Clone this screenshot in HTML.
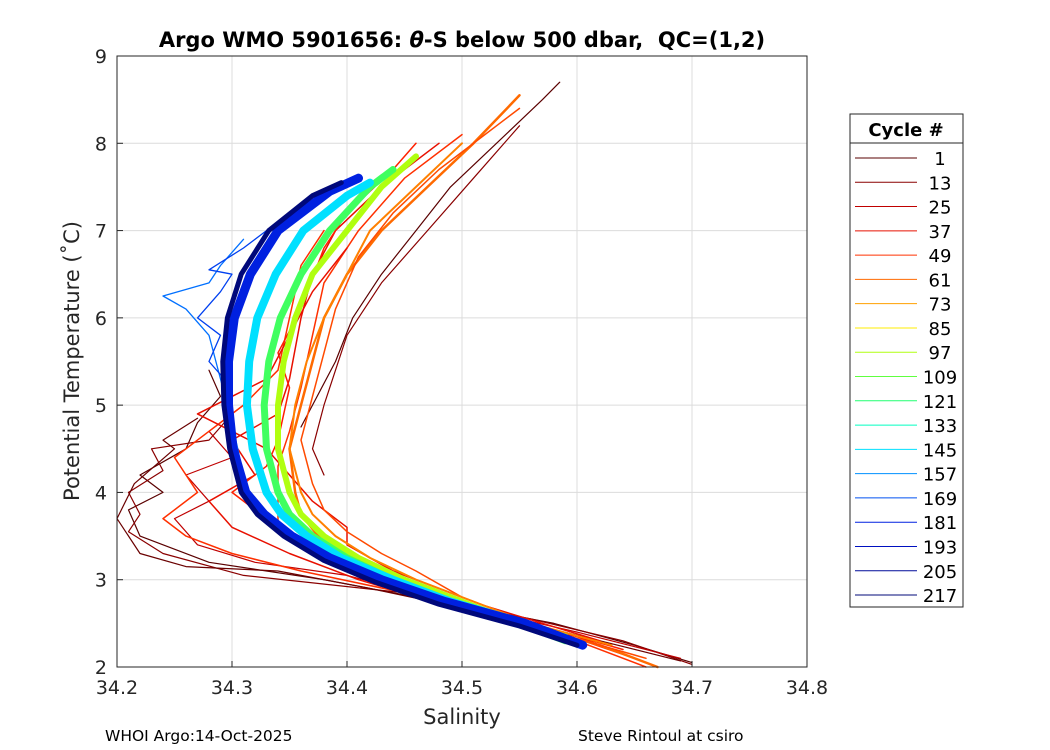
<!DOCTYPE html>
<html><head><meta charset="utf-8"><style>
body{margin:0;background:#fff;}
svg{display:block;font-family:"DejaVu Sans","Liberation Sans",sans-serif;}
</style></head><body>
<svg id="chart" width="1050" height="750" viewBox="0 0 1050 750">
<rect x="0" y="0" width="1050" height="750" fill="#fff"/>
<rect x="117" y="56" width="690" height="611" fill="#fff"/>
<g id="grid"></g>
<g id="marks"></g>
<rect x="117" y="56" width="690" height="611" fill="none" stroke="#262626" stroke-width="1"/>
<g id="ticks"></g>
<text x="462" y="47" text-anchor="middle" font-size="21" font-weight="bold" fill="#000" xml:space="preserve" style="white-space:pre">Argo WMO 5901656: <tspan font-style="italic">θ</tspan>-S below 500 dbar,  QC=(1,2)</text>
<text x="462" y="724" text-anchor="middle" font-size="21" fill="#262626">Salinity</text>
<text transform="translate(79,361) rotate(-90)" text-anchor="middle" font-size="21" fill="#262626">Potential Temperature (˚C)</text>
<text x="105" y="741" font-size="15.5" fill="#000">WHOI Argo:14-Oct-2025</text>
<text x="578" y="741" font-size="15.5" fill="#000">Steve Rintoul at csiro</text>
<g id="legend">
<rect x="850" y="114" width="113" height="493" fill="#fff" stroke="#262626" stroke-width="1"/>
<text x="906" y="136" text-anchor="middle" font-size="18" font-weight="bold">Cycle #</text>
<line x1="850" y1="143" x2="963" y2="143" stroke="#262626"/>
</g>
</svg>
<script>
const xTicks=[34.2,34.3,34.4,34.5,34.6,34.7,34.8];
const xTickLabels=["34.2","34.3","34.4","34.5","34.6","34.7","34.8"];
const yTicks=[2,3,4,5,6,7,8,9];
const yTickLabels=["2","3","4","5","6","7","8","9"];
const legendCycles=[1,13,25,37,49,61,73,85,97,109,121,133,145,157,169,181,193,205,217];
const legendColors=["#5a0000","#8a0000","#c00000","#e81000","#ff3000","#ff6a00","#ffa000","#ffee00","#b0ff10","#60ff40","#20ff70","#00ffc0","#00e0ff","#0090ff","#0050f0","#0020e0","#0010c0","#000c9a","#00087a"];
// profiles: [salinity, temperature] pairs
const profDarkRed1=[[34.70,2.05],[34.65,2.25],[34.58,2.5],[34.48,2.75],[34.38,3.0],[34.28,3.2],[34.22,3.5],[34.21,3.8],[34.24,4.0],[34.22,4.2],[34.26,4.5],[34.27,4.8],[34.29,5.1],[34.28,5.4]];
const profDarkRed13=[[34.70,2.03],[34.64,2.3],[34.56,2.55],[34.45,2.85],[34.31,3.05],[34.24,3.3],[34.21,3.55],[34.22,3.75],[34.21,4.0],[34.24,4.25],[34.23,4.5],[34.28,4.6],[34.30,4.9]];
const profDarkRed25=[[34.69,2.1],[34.60,2.4],[34.50,2.7],[34.40,3.05],[34.32,3.2],[34.27,3.4],[34.25,3.7],[34.28,3.9],[34.26,4.2],[34.30,4.4],[34.28,4.7],[34.31,5.0]];
const profDarkRed2=[[34.69,2.07],[34.62,2.3],[34.52,2.62],[34.42,2.9],[34.34,3.1],[34.26,3.15],[34.22,3.3],[34.20,3.7],[34.215,4.1],[34.25,4.5],[34.24,4.6],[34.27,4.85]];
const profDarkRight=[[34.36,4.75],[34.39,5.5],[34.405,6.0],[34.43,6.5],[34.46,7.0],[34.49,7.5],[34.53,8.0],[34.57,8.5],[34.585,8.7]];
const profDarkRight2=[[34.38,4.2],[34.37,4.5],[34.38,5.0],[34.40,5.8],[34.43,6.4],[34.47,7.0],[34.51,7.6],[34.55,8.2]];
const profRed37=[[34.67,2.0],[34.60,2.35],[34.50,2.65],[34.41,3.0],[34.35,3.3],[34.30,3.6],[34.28,3.9],[34.32,4.2],[34.30,4.6],[34.34,4.9],[34.35,5.3],[34.36,6.0],[34.37,6.5],[34.39,7.0],[34.43,7.5],[34.48,8.0]];
const profRed38=[[34.65,2.1],[34.55,2.55],[34.45,2.85],[34.36,3.1],[34.30,3.3],[34.26,3.5],[34.24,3.7],[34.27,4.0],[34.25,4.4],[34.28,4.7],[34.31,5.0],[34.34,5.4],[34.35,6.0],[34.36,6.6],[34.38,7.0]];
const profRed39=[[34.64,2.2],[34.56,2.5],[34.46,2.9],[34.40,3.1],[34.36,3.4],[34.33,3.7],[34.30,4.0],[34.33,4.3],[34.34,4.6],[34.35,5.2],[34.34,5.6],[34.36,6.1],[34.38,6.8],[34.40,7.2],[34.44,7.7],[34.46,8.0]];
const profRed49=[[34.66,2.0],[34.58,2.4],[34.49,2.7],[34.42,3.0],[34.37,3.3],[34.34,3.6],[34.34,3.9],[34.34,4.3],[34.35,4.7],[34.36,5.2],[34.37,5.8],[34.38,6.4],[34.41,7.0],[34.45,7.6],[34.50,8.1]];
const profRed50=[[34.62,2.3],[34.52,2.7],[34.44,3.1],[34.40,3.4],[34.40,3.6],[34.37,3.9],[34.35,4.2],[34.33,4.5],[34.30,4.7],[34.27,4.9],[34.30,5.1],[34.33,5.3],[34.35,5.8],[34.37,6.3],[34.40,6.8]];
const profOrange61=[[34.67,2.0],[34.62,2.25],[34.55,2.5],[34.49,2.75],[34.44,3.0],[34.40,3.25],[34.375,3.5],[34.36,3.75],[34.355,4.0],[34.35,4.5],[34.36,5.0],[34.37,5.5],[34.38,6.0],[34.40,6.5],[34.43,7.0],[34.47,7.5],[34.51,8.0],[34.55,8.55]];
const profOrange62=[[34.66,2.1],[34.58,2.4],[34.50,2.8],[34.46,3.1],[34.43,3.3],[34.40,3.55],[34.38,3.8],[34.37,4.1],[34.36,4.6],[34.37,5.1],[34.38,5.6],[34.39,6.1],[34.41,6.7],[34.44,7.2],[34.48,7.7],[34.53,8.2],[34.55,8.4]];
const profOrange73=[[34.63,2.25],[34.56,2.5],[34.51,2.75],[34.46,3.0],[34.42,3.25],[34.39,3.5],[34.37,3.75],[34.36,4.0],[34.35,4.5],[34.355,5.0],[34.365,5.5],[34.38,6.0],[34.40,6.5],[34.42,7.0],[34.46,7.5],[34.50,8.0]];
const profYellow97=[[34.59,2.35],[34.55,2.5],[34.50,2.75],[34.45,3.0],[34.41,3.25],[34.38,3.5],[34.36,3.75],[34.35,4.0],[34.34,4.5],[34.34,5.0],[34.345,5.5],[34.355,6.0],[34.37,6.5],[34.40,7.0],[34.43,7.5],[34.46,7.85]];
const profGreen121=[[34.59,2.3],[34.55,2.5],[34.49,2.75],[34.44,3.0],[34.40,3.25],[34.37,3.5],[34.35,3.75],[34.34,4.0],[34.33,4.5],[34.328,5.0],[34.332,5.5],[34.342,6.0],[34.36,6.5],[34.385,7.0],[34.42,7.5],[34.44,7.7]];
const profCyan145=[[34.60,2.27],[34.555,2.5],[34.49,2.75],[34.44,3.0],[34.395,3.25],[34.365,3.5],[34.343,3.75],[34.33,4.0],[34.318,4.5],[34.313,5.0],[34.315,5.5],[34.322,6.0],[34.338,6.5],[34.362,7.0],[34.40,7.4],[34.42,7.55]];
const profBlue157=[[34.31,4.2],[34.30,4.8],[34.29,5.3],[34.28,5.8],[34.26,6.1],[34.24,6.25],[34.28,6.4],[34.29,6.6],[34.31,6.9]];
const profBlue158=[[34.30,5.2],[34.28,5.5],[34.29,5.8],[34.27,6.0],[34.29,6.3],[34.30,6.5],[34.28,6.55],[34.31,6.8],[34.33,7.0]];
const profBlue181=[[34.605,2.25],[34.555,2.5],[34.485,2.75],[34.43,3.0],[34.385,3.25],[34.352,3.5],[34.328,3.75],[34.312,4.0],[34.301,4.5],[34.297,5.0],[34.297,5.5],[34.302,6.0],[34.316,6.5],[34.34,7.0],[34.385,7.45],[34.41,7.6]];
const profDark217=[[34.60,2.25],[34.55,2.47],[34.48,2.72],[34.425,2.97],[34.38,3.22],[34.345,3.5],[34.322,3.75],[34.308,4.0],[34.298,4.5],[34.293,5.0],[34.292,5.5],[34.296,6.0],[34.308,6.5],[34.332,7.0],[34.37,7.4],[34.395,7.55]];
const profiles=[profDarkRed1,profDarkRed13,profDarkRed25,profDarkRed2,profDarkRight,profDarkRight2,profRed37,profRed38,profRed39,profRed49,profRed50,profOrange61,profOrange62,profOrange73,profYellow97,profGreen121,profCyan145,profBlue157,profBlue158,profBlue181,profDark217];
const profileColors=["#5a0000","#8a0000","#c00000","#6a0000","#5a0000","#8a0000","#e81000","#ff3000","#ff2000","#ff3000","#e81000","#ff6a00","#ff4a00","#ff8000","#b0ff10","#40ff60","#00e0ff","#0070ff","#0040f0","#0020e0","#00087a"];
const profileWidths=[1.2,1.2,1.2,1.2,1.2,1.2,1.5,1.5,1.5,1.5,1.5,2.5,1.5,2,6,7,8,1.3,1.3,9,5];

const NS="http://www.w3.org/2000/svg";
const X0=117,X1=807,Y0=667,Y1=56;
function xs(s){return X0+(s-34.2)/(0.6)*(X1-X0);}
function ys(t){return Y0-(t-2)/7*(Y0-Y1);}
const grid=document.getElementById('grid'),ticks=document.getElementById('ticks'),marks=document.getElementById('marks'),legend=document.getElementById('legend');
function mk(tag,attrs,parent){const e=document.createElementNS(NS,tag);for(const k in attrs)e.setAttribute(k,attrs[k]);parent.appendChild(e);return e;}
xTicks.forEach((v,i)=>{
  const x=xs(v);
  const g=mk('line',{x1:x,x2:x,y1:Y1,y2:Y0,stroke:'#dcdcdc','stroke-width':1},grid);
  
  
  const tk=mk('line',{x1:x,x2:x,y1:Y0,y2:Y0-6,stroke:'#262626'},ticks);
  
  
  const t=mk('text',{x:x,y:Y0+27,'text-anchor':'middle','font-size':19,fill:'#262626'},ticks);
  t.textContent=xTickLabels[i];
  
  
});
yTicks.forEach((v,i)=>{
  const y=ys(v);
  const g=mk('line',{x1:X0,x2:X1,y1:y,y2:y,stroke:'#dcdcdc','stroke-width':1},grid);
  
  
  const tk=mk('line',{x1:X0,x2:X0+6,y1:y,y2:y,stroke:'#262626'},ticks);
  
  
  const t=mk('text',{x:X0-10,y:y+7,'text-anchor':'end','font-size':19,fill:'#262626'},ticks);
  t.textContent=yTickLabels[i];
  
  
});
profiles.forEach((p,i)=>{
  const pts=p.map(d=>xs(d[0]).toFixed(1)+','+ys(d[1]).toFixed(1)).join(' ');
  const pl=mk('polyline',{points:pts,fill:'none',stroke:profileColors[i],'stroke-width':profileWidths[i],'stroke-linejoin':'round','stroke-linecap':'round'},marks);
  
  
});
legendCycles.forEach((c,i)=>{
  const y=158+i*24.28;
  const l=mk('line',{x1:855,x2:917,y1:y,y2:y,stroke:legendColors[i],'stroke-width':1},legend);
  
  
  const t=mk('text',{x:940,y:y+7,'text-anchor':'middle','font-size':18,fill:'#000'},legend);
  t.textContent=String(c);
  
  
});
</script>
</body></html>
